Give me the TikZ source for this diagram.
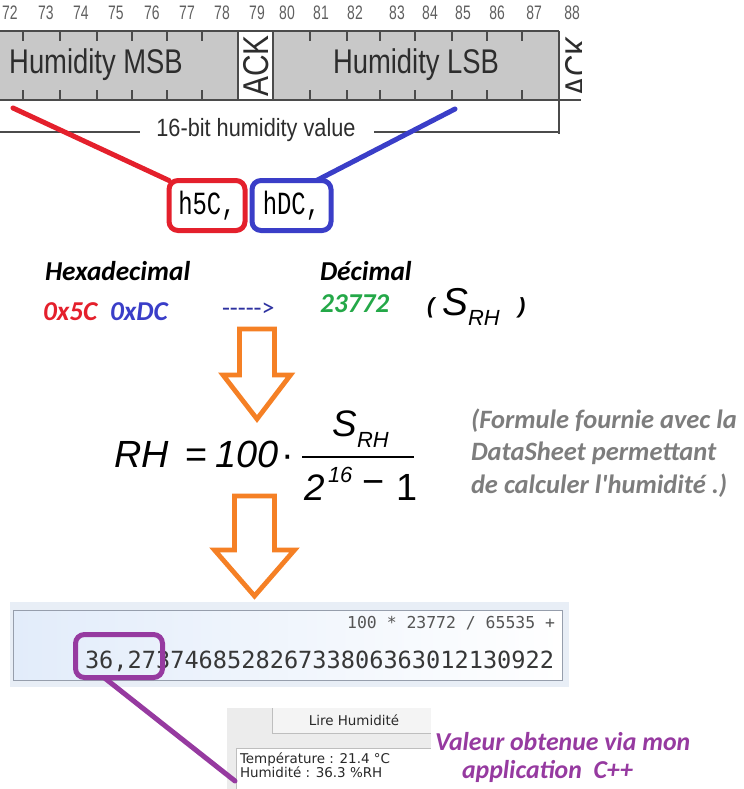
\documentclass[tikz,border=0pt]{standalone}
\usepackage{fontspec}
\setmainfont{Liberation Sans}
\newfontfamily\arialfont{Liberation Sans}
\newfontfamily\calfont{Carlito}
\newfontfamily\courfont{Liberation Mono}
\newfontfamily\consfont{DejaVu Sans Mono}
\newfontfamily\guifont{DejaVu Sans}
\newcommand\fsz[1]{\fontsize{#1}{#1}\selectfont}
\usetikzlibrary{calc}

\definecolor{tdfill}{RGB}{200,200,200}
\definecolor{tdline}{RGB}{75,75,75}
\definecolor{tdtext}{RGB}{45,45,45}
\definecolor{numgray}{RGB}{95,95,95}
\definecolor{hexred}{RGB}{228,32,44}
\definecolor{hexblue}{RGB}{58,62,200}
\definecolor{decgreen}{RGB}{36,168,72}
\definecolor{arrorange}{RGB}{245,128,37}
\definecolor{notegray}{RGB}{125,125,125}
\definecolor{appurple}{RGB}{150,58,160}
\definecolor{calcback}{RGB}{232,238,246}
\definecolor{calcleft}{RGB}{226,236,250}
\definecolor{calcborder}{RGB}{150,158,172}
\definecolor{calctext}{RGB}{55,55,55}
\definecolor{calcsmall}{RGB}{85,85,85}
\definecolor{guibg}{RGB}{236,236,236}
\definecolor{guitab}{RGB}{244,244,244}
\definecolor{guiline}{RGB}{190,190,190}
\definecolor{guitext}{RGB}{40,40,40}

\begin{document}
\begin{tikzpicture}[x=1bp,y=-1bp,
  every node/.style={inner sep=0pt,outer sep=0pt},
  tdstroke/.style={draw=tdline,line width=1.1bp},
  bitnum/.style={anchor=base,text=numgray,font=\arialfont\fsz{14}},
  fieldlabel/.style={anchor=base,text=tdtext,font=\arialfont\fsz{27.5}},
  hexbox/.style={draw=#1,line width=5bp,rounded corners=9bp,minimum width=76bp,
    minimum height=50bp,font=\courfont\fsz{24},text=black},
  link/.style={draw=#1,line width=5bp,line cap=round},
  calib/.style={anchor=base west,font=\calfont\bfseries\itshape\fsz{27.4}},
  fml/.style={anchor=base west,text=black,font=\arialfont\fsz{38}},
  fmlsub/.style={anchor=base west,text=black,font=\arialfont\itshape\fsz{22}},
  bigarrow/.style={draw=arrorange,fill=white,line width=4.8bp,line join=miter},
  gui/.style={anchor=base west,text=guitext,font=\guifont\fsz{13.5}}
]
\useasboundingbox (0,0) rectangle (744,789);

% ---- I2C frame: humidity bytes ----
\fill[tdfill] (0,31) rectangle (238,100);
\fill[tdfill] (273,31) rectangle (559,100);
\draw[tdstroke] (0,31) -- (559,31);
\draw[tdstroke] (0,100) -- (581,100);
\draw[tdstroke] (238,31) -- (238,100);
\draw[tdstroke] (273,31) -- (273,100);
\draw[tdstroke] (559,31) -- (559,134);
\foreach \x in {23,60,97,132,167,202,310,347,380,415,452,487,522} {
  \draw[tdstroke] (\x,31) -- (\x,41);
  \draw[tdstroke] (\x,90) -- (\x,100);
}
\foreach \n/\x in {72/10,73/46,74/81,75/116,76/152,77/187,78/222,79/257,80/287,
                   81/321,82/355,83/397,84/430,85/463,86/497,87/534,88/572}
  \node[bitnum] (bit\n) at (\x,20) {\scalebox{1}[1.4]{\n}};
\node[fieldlabel] (msb) at (96,74) {\scalebox{1}[1.25]{Humidity MSB}};
\node[fieldlabel] (lsb) at (416,74) {\scalebox{1}[1.25]{Humidity LSB}};
\node[rotate=90,text=tdtext,font=\arialfont\fsz{30}] (ack1) at (256,66) {\scalebox{1}[1.2]{ACK}};
\begin{scope}
  \clip (560,0) rectangle (581,110);
  \node[rotate=90,text=tdtext,font=\arialfont\fsz{30}] (ack2) at (578,66) {\scalebox{1}[1.2]{ACK}};
\end{scope}
\node[anchor=base,text=tdtext,font=\arialfont\fsz{21.8}] (value) at (256,136)
  {\scalebox{1}[1.15]{16-bit humidity value}};
\draw[tdstroke] (0,132) -- (140,132);
\draw[tdstroke] (374,132) -- (559,132);

% ---- bytes read on the bus ----
\node[hexbox=hexred] (hmsb) at (207,205.5) {\scalebox{1}[1.35]{h5C,}};
\node[hexbox=hexblue,minimum width=79bp] (hlsb) at (291.5,205.5) {\scalebox{1}[1.35]{hDC,}};
\coordinate (redstart) at (13,108);
\coordinate (bluestart) at (455,109);
\draw[link=hexred] (redstart) -- (hmsb.north west);
\draw[link=hexblue] (bluestart) -- (hlsb.45);

% ---- conversion ----
\node[calib,text=black] (hexlabel) at (45,280) {Hexadecimal};
\node[calib,text=black] (declabel) at (320,280) {Décimal};
\node[calib,text=hexred] (hexmsb) at (43,320) {0x5C};
\node[calib,text=hexblue] (hexlsb) at (110,320) {0xDC};
\node[anchor=base west,text=hexblue!80!black,font=\calfont\fsz{26}] (conv) at (222,316) {----->};
\node[calib,text=decgreen] (decval) at (320,312) {23772};
\node[anchor=base west,font=\arialfont\bfseries\itshape\fsz{22}] (lpar) at (427,313) {(};
\node[anchor=base west,font=\arialfont\itshape\fsz{39}] (srh) at (442,315) {S};
\node[fmlsub] (srhsub) at (468,325) {RH};
\node[anchor=base west,font=\arialfont\bfseries\itshape\fsz{22}] (rpar) at (518,313) {)};

\draw[bigarrow] (239.5,329) -- (274.5,329) -- (274.5,375) -- (290.5,375)
  -- (257,419) -- (223,375) -- (239.5,375) -- cycle;

% ---- datasheet formula ----
\node[fml] (rh) at (114,467) {\itshape RH};
\node[fml] (eq) at (185,467) {=};
\node[fml] (hundred) at (215,467) {\itshape 100};
\node[fml] (cdot) at (281,467) {·};
\node[fml,font=\arialfont\itshape\fsz{37}] (nums) at (332,436) {S};
\node[fmlsub] (numsub) at (357,447) {RH};
\draw[line width=1.8bp] (302,457) -- (414,457);
\node[fml,font=\arialfont\itshape\fsz{37}] (two) at (304,500) {2};
\node[fmlsub] (exp) at (328,482) {16};
\node[fml] (minus) at (362,494) {−};
\node[fml] (one) at (396,500) {1};
\node[calib,text=notegray,font=\calfont\bfseries\itshape\fsz{26.6}] (note1) at (471,428) {(Formule fournie avec la};
\node[calib,text=notegray,font=\calfont\bfseries\itshape\fsz{26.6}] (note2) at (471,460) {DataSheet permettant};
\node[calib,text=notegray,font=\calfont\bfseries\itshape\fsz{26.6}] (note3) at (471,493) {de calculer l'humidité .)};

\draw[bigarrow] (234.5,496) -- (274.5,496) -- (274.5,550) -- (294.5,550)
  -- (254.5,596) -- (214.5,550) -- (234.5,550) -- cycle;

% ---- calculator result ----
\fill[calcback] (10,602) rectangle (569,687);
\draw[draw=calcborder,line width=1bp,left color=calcleft,right color=white]
  (13,610) rectangle (562,680);
\node[anchor=base east,text=calcsmall,font=\consfont\fsz{16.5}] (expr) at (555,628)
  {100 * 23772 / 65535 +};
\node[anchor=base west,text=calctext,font=\consfont\fsz{23.7}] (result) at (85,668)
  {36,273746852826733806363012130922};
\node[draw=appurple,line width=5bp,rounded corners=9bp,minimum width=87bp,
  minimum height=43bp] (pbox) at (119,656) {};

% ---- application window ----
\fill[guibg] (227,708) rectangle (431,789);
\fill[guitab] (272,708) rectangle (431,733);
\draw[guiline,line width=1bp] (272,708) -- (272,733) -- (431,733);
\fill[white] (236,748) rectangle (431,789);
\draw[guiline,line width=1bp] (236,789) -- (236,748) -- (431,748);
\node[anchor=base,text=guitext,font=\guifont\fsz{13.5}] (tab) at (354,725) {Lire Humidité};
\node[gui] (temp) at (240,763) {Température : 21.4 °C};
\node[gui] (hum) at (240,777) {Humidité : 36.3 \%RH};
\coordinate (append) at (235,781);
\draw[link=appurple] (pbox.-125) -- (append);
\node[calib,text=appurple,font=\calfont\bfseries\itshape\fsz{25.9}] (app1) at (435,750) {Valeur obtenue via mon};
\node[calib,text=appurple,font=\calfont\bfseries\itshape\fsz{25.9}] (app2) at (462,778) {application\ \ C++};
\end{tikzpicture}
\end{document}
